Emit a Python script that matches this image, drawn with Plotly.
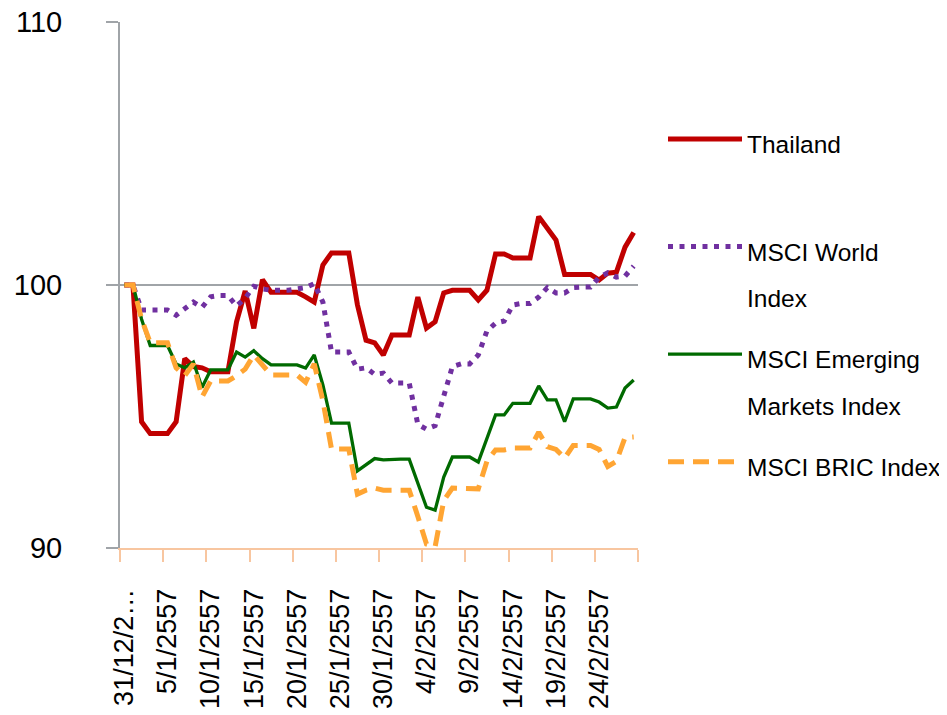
import datetime as dt
import plotly.graph_objects as go

# ---------------- data ----------------
start = dt.date(2013, 12, 31)
dates = [(start + dt.timedelta(days=i)) for i in range(60)]
date_labels = [f"{d.day}/{d.month}/{d.year + 543}" for d in dates]

tick_dates = ["31/12/2556", "5/1/2557", "10/1/2557", "15/1/2557", "20/1/2557",
              "25/1/2557", "30/1/2557", "4/2/2557", "9/2/2557", "14/2/2557",
              "19/2/2557", "24/2/2557"]
tick_text = ["31/12/2…", "5/1/2557", "10/1/2557", "15/1/2557", "20/1/2557",
             "25/1/2557", "30/1/2557", "4/2/2557", "9/2/2557", "14/2/2557",
             "19/2/2557", "24/2/2557"]

thailand = [100.0, 100.0, 94.8, 94.35, 94.35, 94.35, 94.8, 97.2, 96.9, 96.85,
            96.7, 96.7, 96.7, 98.6, 99.77, 98.35, 100.2, 99.72, 99.72, 99.72,
            99.72, 99.55, 99.35, 100.76, 101.22, 101.22, 101.22, 99.25, 97.9, 97.8,
            97.34, 98.1, 98.1, 98.1, 99.54, 98.36, 98.6, 99.7, 99.8, 99.8,
            99.8, 99.43, 99.8, 101.18, 101.18, 101.03, 101.03, 101.03, 102.6, 102.13,
            101.71, 100.4, 100.4, 100.4, 100.4, 100.19, 100.45, 100.49, 101.44, 102.0]

msci_world = [100.0, 100.0, 99.05, 99.05, 99.05, 99.05, 98.85, 99.1, 99.35, 99.15,
              99.55, 99.6, 99.6, 99.2, 99.5, 99.95, 99.85, 99.8, 99.8, 99.8,
              99.85, 99.9, 100.05, 99.35, 97.45, 97.45, 97.45, 96.8, 96.85, 96.6,
              96.65, 96.27, 96.27, 96.27, 94.7, 94.52, 94.65, 95.8, 96.9, 97.0,
              97.0, 97.34, 98.25, 98.55, 98.63, 99.24, 99.3, 99.3, 99.54, 99.9,
              99.7, 99.7, 99.9, 99.92, 99.92, 100.3, 100.46, 100.3, 100.34, 100.72]

msci_em = [100.0, 100.0, 98.7, 97.7, 97.7, 97.7, 97.0, 96.85, 97.07, 96.1,
           96.77, 96.77, 96.77, 97.45, 97.26, 97.5, 97.2, 96.96, 96.96, 96.96,
           96.96, 96.84, 97.34, 96.2, 94.75, 94.75, 94.75, 92.93, 93.15, 93.4,
           93.35, 93.38, 93.38, 93.38, 92.5, 91.55, 91.44, 92.7, 93.46, 93.46,
           93.46, 93.27, 94.2, 95.06, 95.06, 95.5, 95.5, 95.5, 96.16, 95.63,
           95.63, 94.8, 95.67, 95.67, 95.67, 95.55, 95.32, 95.36, 96.08, 96.39]

msci_bric = [100.0, 100.0, 98.7, 97.8, 97.8, 97.8, 96.85, 96.55, 97.0, 95.74,
             96.35, 96.35, 96.35, 96.55, 96.8, 97.34, 96.95, 96.58, 96.58, 96.58,
             96.58, 96.3, 97.0, 95.6, 93.76, 93.76, 93.76, 92.05, 92.2, 92.28,
             92.2, 92.2, 92.2, 92.2, 91.2, 90.15, 90.05, 91.8, 92.28, 92.28,
             92.28, 92.25, 93.3, 93.73, 93.73, 93.8, 93.8, 93.8, 94.4, 93.85,
             93.75, 93.42, 93.9, 93.9, 93.9, 93.75, 93.1, 93.3, 94.2, 94.22]

y_ticks = [90, 100, 110]

# ---------------- figure ----------------
x = list(range(len(date_labels)))
tickvals = [date_labels.index(d) for d in tick_dates]
boundaries = [v - 0.5 for v in tickvals] + [len(x) - 0.5]

FONT = "Liberation Sans, Arial, sans-serif"
LEG_FS = 24.5

W, H = 939, 707            # page body adds an 8px margin
L, T = 112, 14             # plot area left/top inside the figure
PW, PH = 518, 526          # plot area size


def leg(name):
    parts = name.split("\n")
    if len(parts) == 1:
        parts.append(" ")
    return "<br>".join(f'<span style="font-size:{LEG_FS}px">{p}</span>' if p.strip() else p
                       for p in parts)


series = [
    ("Thailand", thailand, dict(color="#C00000", width=5)),
    ("MSCI World\nIndex", msci_world, dict(color="#7030A0", width=5, dash="5px,6.5px")),
    ("MSCI Emerging\nMarkets Index", msci_em, dict(color="#006A00", width=3.3)),
    ("MSCI BRIC Index", msci_bric, dict(color="#FFA533", width=5, dash="16px,9px")),
]

fig = go.Figure()
for i, (name, vals, line) in enumerate(series):
    fig.add_trace(go.Scatter(
        x=x, y=vals, mode="lines", name=leg(name), line=line,
        legendgroup=f"g{i}", hoverinfo="skip",
    ))

fig.update_layout(
    width=W, height=H,
    margin=dict(l=L, r=W - L - PW, t=T, b=H - T - PH, autoexpand=False),
    paper_bgcolor="white", plot_bgcolor="white",
    font=dict(family=FONT, color="black"),
    showlegend=True,
    legend=dict(
        x=(655 - L) / PW, xanchor="left",
        y=1 - (101 - T) / PH, yanchor="top",
        font=dict(size=36, family=FONT, color="black"),
        traceorder="grouped", tracegroupgap=11,
        valign="top", itemwidth=74,
        bgcolor="rgba(0,0,0,0)",
    ),
    xaxis=dict(
        range=[-0.5, len(x) - 0.5], automargin=False,
        tickmode="array", tickvals=tickvals, ticktext=tick_text,
        tickangle=-90, tickfont=dict(size=27, family=FONT, color="black"),
        ticks="outside", ticklen=12, tickcolor="rgba(0,0,0,0)",
        ticklabelstandoff=16, ticklabeloverflow="allow",
        minor=dict(tickmode="array", tickvals=boundaries, ticks="outside",
                   ticklen=12, tickwidth=2, tickcolor="#F8C6A0", showgrid=False),
        showline=True, linecolor="#F8C6A0", linewidth=2,
        showgrid=False, zeroline=False,
    ),
    yaxis=dict(
        range=[90, 110], tickmode="array", tickvals=y_ticks, automargin=False,
        tickfont=dict(size=29, family=FONT, color="black"),
        ticks="outside", ticklen=12, tickcolor="#A0A4A8", tickwidth=2,
        ticklabelstandoff=38, ticklabeloverflow="allow",
        showline=True, linecolor="#A0A4A8", linewidth=2,
        showgrid=True, gridcolor="#A0A4A8", gridwidth=2,
        zeroline=False,
    ),
)

fig.write_html("out.html")
